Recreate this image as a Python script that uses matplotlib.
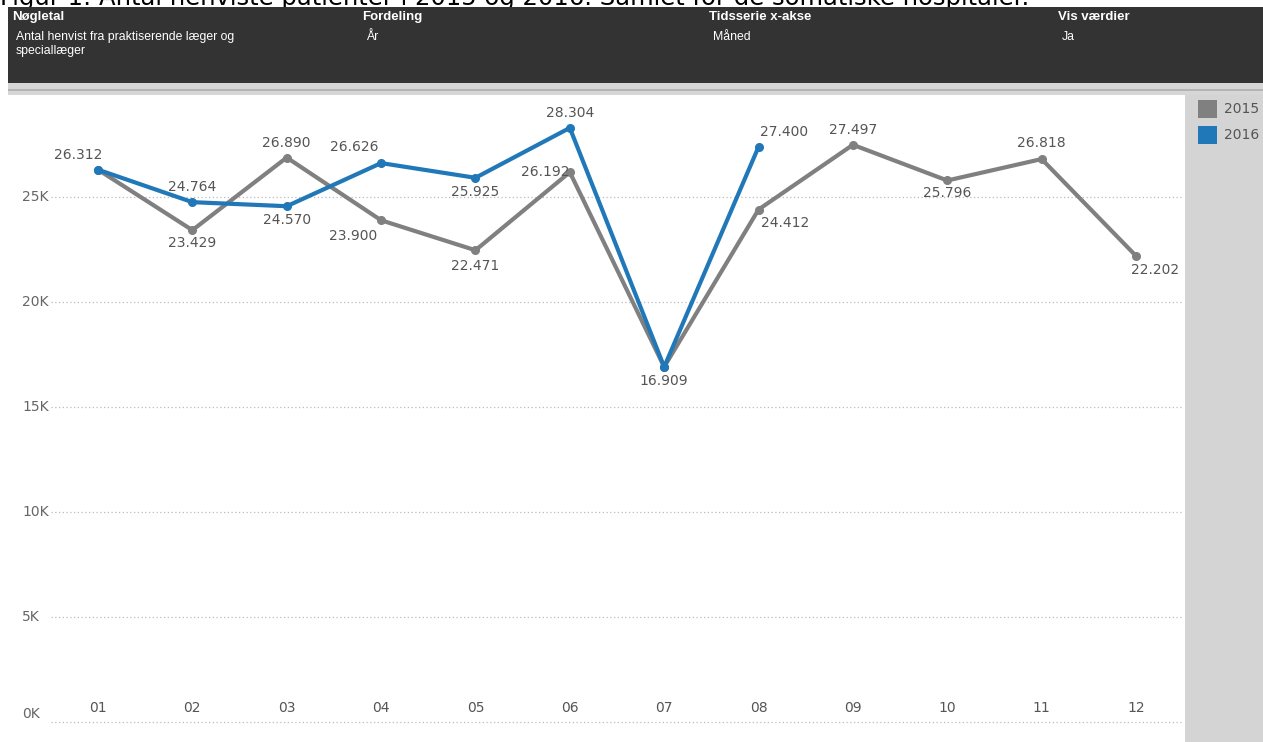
import matplotlib.pyplot as plt
from matplotlib.patches import Rectangle

# Data
months = ['01', '02', '03', '04', '05', '06', '07', '08', '09', '10', '11', '12']
y2015 = [26312, 23429, 26890, 23900, 22471, 26192, 16909, 24412, 27497, 25796, 26818, 22202]
y2016 = [26312, 24764, 24570, 26626, 25925, 28304, 16909, 27400]
yticks = [0, 5000, 10000, 15000, 20000, 25000]

# label offsets in pixels (dx, dy); None = label hidden
off2015 = [(-20, 15), (0, -13), (0, 15), (-28, -16), (0, -16), (-25, 0),
           (0, -14), (27, -13), (0, 15), (0, -13), (0, 16), (19, -14)]
off2016 = [None, (0, 15), (0, -14), (-27, 16), (0, -14), (0, 15), None, (26, 15)]

W, H = 1263, 742
fig = plt.figure(figsize=(W / 100, H / 100), dpi=100)
fig.patch.set_facecolor('white')

def px(x0, y0, w, h):
    # pixel box (from top-left) -> figure fraction
    return [x0 / W, 1 - (y0 + h) / H, w / W, h / H]

# title, mostly hidden under the header (cut off in the original too)
fig.text(0, 1 - 5 / H, 'Figur 1: Antal henviste patienter i 2015 og 2016. Samlet for de somatiske hospitaler.',
         fontsize=17.5, color='black', va='baseline', ha='left', zorder=1)

# dark header
fig.patches.append(Rectangle((8 / W, 1 - 83 / H), (W - 8) / W, 76 / H, transform=fig.transFigure,
                             facecolor='#333333', edgecolor='none', zorder=2))
fig.patches.append(Rectangle((8 / W, 1 - 95 / H), (W - 8) / W, 12 / H, transform=fig.transFigure,
                             facecolor='#d6d6d6', edgecolor='none', zorder=2))
fig.patches.append(Rectangle((8 / W, 1 - 91 / H), (W - 8) / W, 2 / H, transform=fig.transFigure,
                             facecolor='#b4b4b4', edgecolor='none', zorder=3))

hdr = [(12, 'Nøgletal', 'Antal henvist fra praktiserende læger og\nspeciallæger'),
       (362, 'Fordeling', 'År'),
       (709, 'Tidsserie x-akse', 'Måned'),
       (1058, 'Vis værdier', 'Ja')]
for x0, head, val in hdr:
    fig.text(x0 / W, 1 - 11 / H, head, fontsize=9.5, fontweight='bold', color='white',
             family='Liberation Sans', va='top', ha='left', zorder=4)
    fig.text((x0 + 4) / W, 1 - 31 / H, val, fontsize=8.8, color='white', linespacing=1.2,
             family='Liberation Sans', va='top', ha='left', zorder=4)

# legend panel
fig.patches.append(Rectangle((1185 / W, 0), (W - 1185) / W, (H - 95) / H, transform=fig.transFigure,
                             facecolor='#d4d4d4', edgecolor='none', zorder=2))
for i, (lab, col) in enumerate([('2015', '#808080'), ('2016', '#2178b8')]):
    ytop = 100 + i * 26
    fig.patches.append(Rectangle((1198 / W, 1 - (ytop + 18) / H), 19 / W, 18 / H, transform=fig.transFigure,
                                 facecolor=col, edgecolor='none', zorder=3))
    fig.text(1224 / W, 1 - (ytop + 9) / H, lab, fontsize=10, color='#555555', va='center', ha='left', zorder=4)

# main chart
ax = fig.add_axes(px(8, 95, 1175, 647))
x = list(range(1, 13))
ymin = -(742 - 721.7) / 20.98 * 1000
ymax = (721.7 - 95) / 20.98 * 1000
ax.set_ylim(ymin, ymax)
ax.set_xlim(1 - 90 / 94.36, 12 + 47 / 94.36)
for s in ax.spines.values():
    s.set_visible(False)
ax.set_xticks([])
ax.set_yticks([])

for t in yticks:
    ax.plot([0.5, 12.5], [t, t], color='#bbbbbb', lw=0.9, ls=(0, (1, 2)), zorder=1)
    dy = 8 if t == 0 else 0
    ax.annotate(f'{t // 1000}K', (x[0], t), xycoords='data', xytext=(22 - 98, dy),
                textcoords='offset pixels', fontsize=10, color='#666666', va='center', ha='left')

for i, m in enumerate(months):
    ax.annotate(m, (x[i], ymin), xytext=(0, 34), textcoords='offset pixels',
                fontsize=10, color='#555555', ha='center', va='center')

ax.plot(x, y2015, color='#808080', lw=3, marker='o', ms=5.5, zorder=3)
ax.plot(x[:len(y2016)], y2016, color='#2178b8', lw=3, marker='o', ms=5.5, zorder=4)

def fmt(v):
    return f'{v:,}'.replace(',', '.')

for xs, ys, offs in [(x, y2015, off2015), (x, y2016, off2016)]:
    for xi, yi, o in zip(xs, ys, offs):
        if o is None:
            continue
        ax.annotate(fmt(yi), (xi, yi), xytext=o, textcoords='offset pixels',
                    fontsize=10, color='#555555', ha='center', va='center', zorder=5)

fig.savefig('out.png', dpi=100)
